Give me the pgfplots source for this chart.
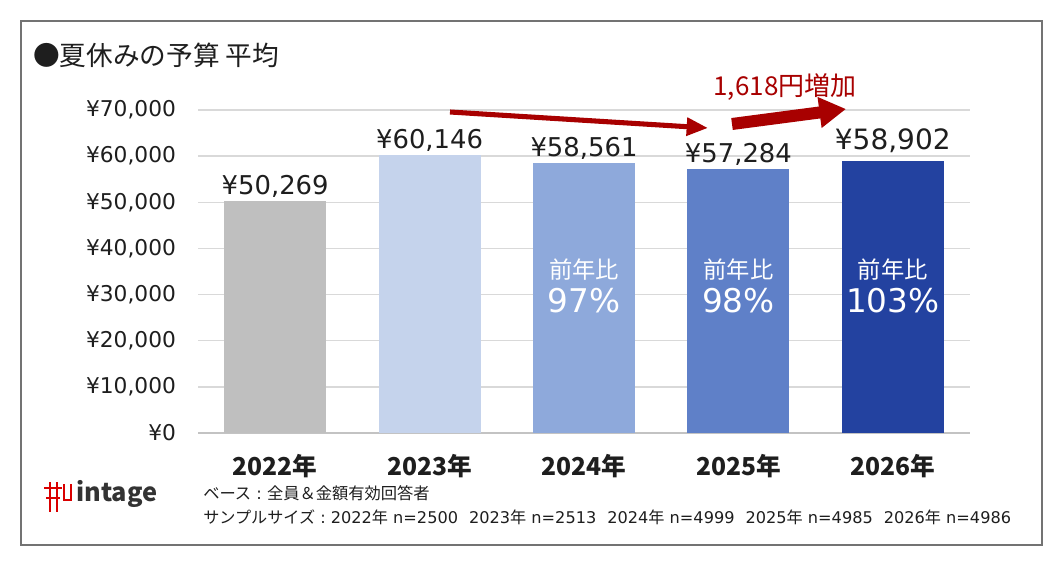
\documentclass[border=0pt]{standalone}
\usepackage{pgfplots}
\pgfplotsset{compat=1.18}
\usepackage{fontspec}
\setmainfont{Noto Sans CJK JP}
\newfontfamily\dv{DejaVu Sans}
\usetikzlibrary{arrows.meta}
\definecolor{c22}{HTML}{BFBFBF}
\definecolor{c23}{HTML}{C5D3EC}
\definecolor{c24}{HTML}{8EA9DB}
\definecolor{c25}{HTML}{5F80C8}
\definecolor{c26}{HTML}{2342A0}
\definecolor{dred}{HTML}{A80000}
\definecolor{txt}{HTML}{1E1E1E}
\definecolor{gridc}{HTML}{D9D9D9}
\newcommand{\grp}[2]{{\dv #1}年{\dv\ n=#2}}
\newcommand{\gap}{{\dv\ }\hspace{4.5pt}}
\begin{document}
\begin{tikzpicture}[x=0.75pt,y=-0.75pt]
\path[use as bounding box, fill=white] (0,0) rectangle (1063,566);
\draw[black!55, line width=1.3pt] (21,21) rectangle (1042,545);
\node[anchor=west, font=\fontsize{20}{22}\selectfont, text=txt, inner sep=0] at (33,55) {●夏休みの予算 平均};
\begin{axis}[
  at={(148.5pt,-324.75pt)}, anchor=south west,
  scale only axis, width=579pt, height=242.25pt,
  xmin=-0.5, xmax=4.5, ymin=0, ymax=70000,
  ybar, bar width=0.66, bar shift=0pt,
  axis x line*=bottom, axis y line*=left,
  y axis line style={draw=none},
  x axis line style={draw=gridc!90!black, line width=1.6pt},
  major tick style={draw=none},
  ymajorgrids, grid style={draw=gridc, line width=1pt},
  ytick={0,10000,...,70000},
  /pgf/number format/.cd, fixed, precision=0, 1000 sep={,}, assume math mode=true,
  /pgfplots/.cd,
  scaled y ticks=false,
  yticklabel={¥\pgfmathprintnumber{\tick}},
  yticklabel style={font=\dv\fontsize{16.3}{18}\selectfont, text=txt, xshift=-13pt},
  xtick={0,1,2,3,4},
  xticklabels={2022年,2023年,2024年,2025年,2026年},
  xticklabel style={font=\bfseries\fontsize{18.5}{20}\selectfont, text=txt, yshift=-8pt},
  nodes near coords={¥\pgfmathprintnumber{\pgfplotspointmeta}},
  every node near coord/.append style={font=\dv\fontsize{19.4}{21}\selectfont, text=txt, inner sep=1pt, yshift=1.5pt},
  clip=false,
]
\addplot[fill=c22, draw=none] coordinates {(0,50269)};
\addplot[fill=c23, draw=none] coordinates {(1,60146)};
\addplot[fill=c24, draw=none] coordinates {(2,58561)};
\addplot[fill=c25, draw=none] coordinates {(3,57284)};
\addplot[fill=c26, draw=none, every node near coord/.append style={font=\dv\fontsize{21}{24}\selectfont, yshift=3.5pt}] coordinates {(4,58902)};
\node[text=white, font=\fontsize{17.5}{20}\selectfont] at (axis cs:2,35400) {前年比};
\node[text=white, font=\dv\fontsize{24.5}{28}\selectfont] at (axis cs:2,28800) {97\%};
\node[text=white, font=\fontsize{17.5}{20}\selectfont] at (axis cs:3,35400) {前年比};
\node[text=white, font=\dv\fontsize{24.5}{28}\selectfont] at (axis cs:3,28800) {98\%};
\node[text=white, font=\fontsize{17.5}{20}\selectfont] at (axis cs:4,35400) {前年比};
\node[text=white, font=\dv\fontsize{24.5}{28}\selectfont] at (axis cs:4,28800) {103\%};
\end{axis}
% arrows
\draw[dred, line width=3.8pt, -{Triangle[length=16pt,width=13pt]}] (450,112) -- (708,128);
\draw[dred, line width=9pt, -{Triangle[length=20pt,width=22pt]}] (732,124) -- (846,109);
\node[text=dred, font=\fontsize{19.5}{22}\selectfont] at (785,87) {1,618円増加};
% logo
\begin{scope}[red!85!black, line width=2.2pt]
\draw (50,482) -- (50,512);
\draw (44,488) -- (62,488);
\draw (57,482) -- (57,512);
\draw (46,498) -- (60,498);
\draw (64,484) -- (64,500) -- (71,500) -- (71,484);
\end{scope}
\node[anchor=west, font=\bfseries\fontsize{19}{20}\selectfont, text=black!80, inner sep=0] at (76,494) {intage};
\node[anchor=west, font=\fontsize{12.2}{14}\selectfont, text=txt, inner sep=0] at (203,493) {ベース{\dv\ :\ }全員＆金額有効回答者};
\node[anchor=west, font=\fontsize{12.1}{14}\selectfont, text=txt, inner sep=0] at (203,517) {サンプルサイズ{\dv\ :\ }\grp{2022}{2500}\gap\grp{2023}{2513}\gap\grp{2024}{4999}\gap\grp{2025}{4985}\gap\grp{2026}{4986}};
\end{tikzpicture}
\end{document}
